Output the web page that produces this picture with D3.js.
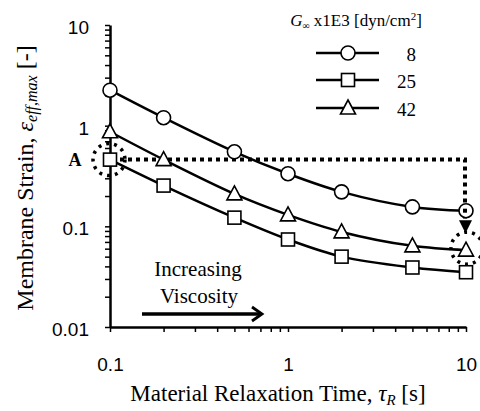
<!DOCTYPE html>
<html>
<head>
<meta charset="utf-8">
<script src="https://cdn.jsdelivr.net/npm/d3@7"></script>
<style>
  body { margin: 0; background: #fff; }
  svg { display: block; }
</style>
</head>
<body>
<div id="chart"></div>
<script>
  'use strict';

  var tau = [0.1, 0.2, 0.5, 1, 2, 5, 10];
  var seriesNames = ['8', '25', '42'];
  var strain8 = [2.25, 1.2, 0.55, 0.333, 0.22, 0.156, 0.143];
  var strain25 = [0.46, 0.254, 0.122, 0.074, 0.05, 0.039, 0.035];
  var strain42 = [0.87, 0.46, 0.21, 0.13, 0.088, 0.064, 0.058];
  var symbols = ['circle', 'square', 'triangle'];
  var xMajor = [0.1, 1, 10];
  var yMajor = [0.01, 0.1, 1, 10];
  var pointA = {tau: 0.1, strain: 0.46};
  var pointEnd = {tau: 10, strain: 0.058};

  var width = 480, height = 411;
  var serif = '"Liberation Serif", "Times New Roman", serif';
  var sans = '"Liberation Sans", Arial, sans-serif';

  var x = d3.scaleLog().domain([0.1, 10]).range([110, 466]);
  var y = d3.scaleLog().domain([0.01, 10]).range([327, 25]);

  var svg = d3.select('#chart').append('svg')
    .attr('width', width).attr('height', height);

  function minorTicks(domain) {
    var t = [];
    for (var e = Math.log10(domain[0]); e < Math.log10(domain[1]); e++) {
      for (var k = 1; k < 10; k++) t.push(k * Math.pow(10, e));
    }
    t.push(domain[1]);
    return t;
  }

  // axes
  var yAxis = svg.append('g')
    .attr('transform', 'translate(110,0)')
    .call(d3.axisLeft(y).tickValues(minorTicks([0.01, 10])).tickSize(5).tickSizeOuter(0)
      .tickFormat(function (d) { return yMajor.indexOf(+d.toPrecision(3)) >= 0 ? d3.format('~g')(d) : ''; }));
  var xAxis = svg.append('g')
    .attr('transform', 'translate(0,327)')
    .call(d3.axisBottom(x).tickValues(minorTicks([0.1, 10])).tickSize(5).tickSizeOuter(0)
      .tickFormat(function (d) { return xMajor.indexOf(+d.toPrecision(3)) >= 0 ? d3.format('~g')(d) : ''; }));

  [yAxis, xAxis].forEach(function (ax) {
    ax.select('.domain').attr('stroke', '#000').attr('stroke-width', 2.5);
    ax.selectAll('.tick line').attr('stroke', '#000').attr('stroke-width', 1.5);
    ax.selectAll('.tick text').attr('font-family', sans).attr('font-size', 19).attr('fill', '#000');
  });
  yAxis.selectAll('.tick text').attr('x', -21).attr('dy', '0.45em');
  xAxis.selectAll('.tick text').attr('y', 31);

  // annotation: dotted path from A to the 42 curve
  var ax0 = x(pointA.tau), ay0 = y(pointA.strain), ax1 = x(pointEnd.tau), ay1 = y(pointEnd.strain);
  svg.append('path')
    .attr('d', 'M' + (ax0 + 10) + ',' + ay0 + 'H' + (ax1 - 1) + 'V' + (ay1 - 28))
    .attr('fill', 'none').attr('stroke', '#000').attr('stroke-width', 4)
    .attr('stroke-dasharray', '4,4');
  svg.append('path')
    .attr('d', 'M' + (ax1 - 7) + ',' + (ay1 - 30) + 'L' + (ax1 + 6) + ',' + (ay1 - 30) + 'L' + (ax1 - 0.5) + ',' + (ay1 - 17) + 'Z')
    .attr('fill', '#000');
  [[ax0 - 1, ay0], [ax1 + 1, ay1 - 2]].forEach(function (c) {
    svg.append('circle')
      .attr('cx', c[0]).attr('cy', c[1]).attr('r', 16)
      .attr('fill', 'none').attr('stroke', '#000').attr('stroke-width', 3.5)
      .attr('stroke-dasharray', '3,5');
  });
  svg.append('text')
    .attr('x', 75).attr('y', ay0 + 6)
    .attr('text-anchor', 'middle')
    .attr('font-family', serif).attr('font-weight', 'bold').attr('font-size', 18)
    .text('A');

  // series
  var series = [strain8, strain25, strain42].map(function (vals, i) {
    return {name: seriesNames[i], symbol: symbols[i], values: vals.map(function (v, j) { return [tau[j], v]; })};
  });

  var line = d3.line()
    .x(function (d) { return x(d[0]); })
    .y(function (d) { return y(d[1]); })
    .curve(d3.curveCatmullRom.alpha(0.5));

  function drawSymbol(g, type) {
    if (type === 'circle') {
      g.append('circle').attr('r', 7);
    } else if (type === 'square') {
      g.append('rect').attr('x', -6.5).attr('y', -6.5).attr('width', 13).attr('height', 13);
    } else {
      g.append('path').attr('d', 'M0,-8L7.5,6L-7.5,6Z');
    }
    g.selectAll('*').attr('fill', '#fff').attr('stroke', '#000').attr('stroke-width', 1.6);
  }

  series.forEach(function (s) {
    svg.append('path')
      .datum(s.values)
      .attr('d', line)
      .attr('fill', 'none').attr('stroke', '#000').attr('stroke-width', 2.5);
    s.values.forEach(function (d) {
      var g = svg.append('g').attr('transform', 'translate(' + x(d[0]) + ',' + y(d[1]) + ')');
      drawSymbol(g, s.symbol);
    });
  });

  // dot inside circle at end (dotted line passes through)
  svg.append('rect')
    .attr('x', ax1 - 3).attr('y', y(strain8[6]) - 2).attr('width', 4).attr('height', 4)
    .attr('fill', '#000');

  // legend
  var legendTitle = svg.append('text')
    .attr('x', 356).attr('y', 26).attr('text-anchor', 'middle')
    .attr('font-family', serif).attr('font-size', 17);
  legendTitle.append('tspan').attr('font-style', 'italic').text('G');
  legendTitle.append('tspan').attr('font-size', 10).attr('dy', 3).text('∞');
  legendTitle.append('tspan').attr('dy', -3).text(' x1E3 [dyn/cm');
  legendTitle.append('tspan').attr('font-size', 11).attr('dy', -6).text('2');
  legendTitle.append('tspan').attr('dy', 6).text(']');

  series.forEach(function (s, i) {
    var ly = [53, 80, 108][i];
    svg.append('line')
      .attr('x1', 316).attr('x2', 379).attr('y1', ly).attr('y2', ly)
      .attr('stroke', '#000').attr('stroke-width', 2.5);
    var g = svg.append('g').attr('transform', 'translate(348,' + ly + ')');
    drawSymbol(g, s.symbol);
    svg.append('text')
      .attr('x', 416).attr('y', ly + 8).attr('text-anchor', 'end')
      .attr('font-family', serif).attr('font-size', 19)
      .text(s.name);
  });

  // increasing viscosity arrow
  svg.append('text').attr('x', 198).attr('y', 276).attr('text-anchor', 'middle')
    .attr('font-family', serif).attr('font-size', 21).text('Increasing');
  svg.append('text').attr('x', 199).attr('y', 303).attr('text-anchor', 'middle')
    .attr('font-family', serif).attr('font-size', 21).text('Viscosity');
  svg.append('line')
    .attr('x1', 142).attr('x2', 261).attr('y1', 314).attr('y2', 314)
    .attr('stroke', '#000').attr('stroke-width', 3.5);
  svg.append('path')
    .attr('d', 'M252,307L262,314L252,321')
    .attr('fill', 'none').attr('stroke', '#000').attr('stroke-width', 2.8);

  // axis titles
  var xt = svg.append('text')
    .attr('x', 278).attr('y', 401).attr('text-anchor', 'middle')
    .attr('font-family', serif).attr('font-size', 23);
  xt.append('tspan').text('Material Relaxation Time, ');
  xt.append('tspan').attr('font-style', 'italic').text('τ');
  xt.append('tspan').attr('font-style', 'italic').attr('font-size', 15).attr('dy', 4).text('R');
  xt.append('tspan').attr('dy', -4).text(' [s]');

  var yt = svg.append('text')
    .attr('transform', 'translate(33,178) rotate(-90)')
    .attr('text-anchor', 'middle')
    .attr('font-family', serif).attr('font-size', 24);
  yt.append('tspan').text('Membrane Strain, ');
  yt.append('tspan').attr('font-style', 'italic').text('ε');
  yt.append('tspan').attr('font-style', 'italic').attr('font-size', 16).attr('dy', 4).text('eff,max');
  yt.append('tspan').attr('dy', -4).text(' [-]');
</script>
</body>
</html>
